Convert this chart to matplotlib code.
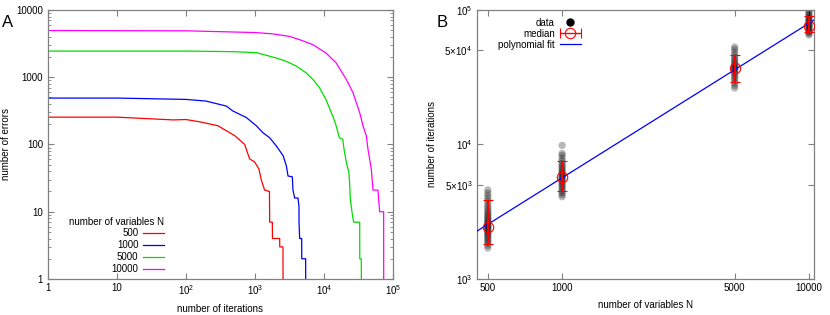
import matplotlib
matplotlib.use("Agg")
import matplotlib.pyplot as plt
from matplotlib.lines import Line2D
from matplotlib.legend_handler import HandlerErrorbar
import numpy as np

plt.rcParams['font.family'] = ['Liberation Sans', 'DejaVu Sans']
plt.rcParams['mathtext.default'] = 'regular'

# panel A: number of errors vs iterations (curve vertices)
iter_500 = [1, 10, 65, 100, 160, 290, 510, 710, 748, 836, 990, 1142, 1230, 1380, 1620, 1632, 1783, 1790,
            2277, 2285, 2545, 2550]
err_500 = [255, 255, 232, 235, 217, 190, 135, 100, 85, 61, 55, 43, 30, 21, 20, 7, 7, 4,
           4, 3, 3, 1]

iter_1000 = [1, 10, 100, 196, 385, 475, 748, 1050, 1300, 1630, 2040, 2560, 2850, 3010, 3475, 3550, 3760,
             4200, 4340, 4345, 4440, 4750, 4760, 5420, 5430]
err_1000 = [490, 490, 468, 442, 372, 316, 252, 189, 150, 126, 95, 68, 48, 34, 33, 21, 16,
            16, 12, 7, 4, 4, 2, 2, 1]

iter_5000 = [1, 100, 480, 1050, 2040, 2850, 3990, 5580, 6940, 8630, 10700, 13400, 15000, 16700, 18700,
             19500, 21100, 23000, 23500, 24100, 25800, 26900, 32900, 33000, 34700, 34800]
err_5000 = [2450, 2450, 2400, 2320, 1930, 1720, 1460, 1150, 925, 695, 465, 264, 190, 126, 120,
            85, 54, 38, 27, 15, 9, 7, 7, 2, 2, 1]

iter_10000 = [1, 100, 1000, 1800, 3180, 4500, 6940, 10700, 15000, 21100, 26300, 32900, 36700, 41000,
              43400, 48500, 51300, 60600, 62700, 64100, 73200, 73300]
err_10000 = [4950, 4900, 4620, 4420, 4040, 3600, 3040, 2290, 1630, 925, 590, 297, 190, 135,
             85, 43, 21, 21, 13, 10, 10, 1]

curves = [(iter_500, err_500, '500', '#ff0000'),
          (iter_1000, err_1000, '1000', '#0000ff'),
          (iter_5000, err_5000, '5000', '#00dd00'),
          (iter_10000, err_10000, '10000', '#ff00ff')]

# panel B: iterations vs number of variables
N_values = [500, 1000, 5000, 10000]
runs_500 = [1700, 1780, 1850, 1900, 1960, 2020, 2080, 2130, 2190, 2240, 2290, 2340, 2390, 2440, 2480,
            2530, 2580, 2640, 2700, 2770, 2840, 2920, 3000, 3100, 3200, 3320, 3450, 3600, 3780, 3950,
            4150, 4350, 4590]
runs_1000 = [4090, 4250, 4400, 4550, 4700, 4850, 5000, 5150, 5300, 5450, 5600, 5700, 5820, 5950, 6100,
             6250, 6400, 6600, 6800, 7000, 7250, 7550, 7900, 8300, 8580, 9840]
runs_5000 = [26300, 27500, 28800, 30000, 31200, 32300, 33400, 34400, 35400, 36300, 36800, 37400, 38300,
             39300, 40400, 41600, 43000, 44500, 46300, 48500, 51000, 53000]
runs_10000 = [65200, 67000, 68500, 70000, 71500, 73000, 74500, 76100, 77500, 79000, 80500, 82000, 84000,
              86000, 88000, 90500, 93000, 96000, 99000]
runs = [runs_500, runs_1000, runs_5000, runs_10000]

median_iter = [2450, 5730, 36800, 76100]
err_low = [1830, 4530, 29000, 68200]
err_high = [3870, 7530, 46300, 90700]

# power law fit y = a * N^b
fit_a = 2.02
fit_b = 1.149

gray = '#808080'

fig = plt.figure(figsize=(8.3, 3.15), dpi=100)
axA = fig.add_axes([0.0578, 0.1143, 0.4157, 0.8540])
axB = fig.add_axes([0.5747, 0.1143, 0.4060, 0.8540])

# ---- panel A ----
for x, y, lab, col in curves:
    axA.plot(x, y, color=col, lw=0.9, label=lab)

axA.set_xscale('log')
axA.set_yscale('log')
axA.set_xlim(1, 1e5)
axA.set_ylim(1, 1e4)
axA.set_xticks([1, 10, 100, 1000, 1e4, 1e5])
axA.set_xticklabels(['1', '10', '$10^2$', '$10^3$', '$10^4$', '$10^5$'])
axA.set_yticks([1, 10, 100, 1000, 1e4])
axA.set_yticklabels(['1', '10', '100', '1000', '10000'])
axA.xaxis.set_minor_locator(matplotlib.ticker.NullLocator())
axA.set_xlabel('number of iterations', fontsize=7, labelpad=5)
axA.set_ylabel('number of errors', fontsize=7, labelpad=4)
axA.legend(title='number of variables N', loc='lower left', bbox_to_anchor=(0.035, -0.015),
           frameon=False, markerfirst=False, fontsize=7, title_fontsize=7,
           handlelength=2.1, handletextpad=0.5, labelspacing=0.2, alignment='right')

# ---- panel B ----
for n, vals in zip(N_values, runs):
    axB.scatter([n] * len(vals), vals, s=28, color='black', alpha=0.28, edgecolors='none', zorder=2)

axB.errorbar(N_values, median_iter,
             yerr=[np.array(median_iter) - np.array(err_low), np.array(err_high) - np.array(median_iter)],
             fmt='o', ms=7.5, mfc='none', mec='red', mew=0.8, ecolor='red', elinewidth=1.4,
             capsize=3.3, capthick=1.0, zorder=4)

fit_x = np.array([450, 10500])
axB.plot(fit_x, fit_a * fit_x ** fit_b, color='#0000ff', lw=0.9, zorder=3)

axB.set_xscale('log')
axB.set_yscale('log')
axB.set_xlim(452, 10480)
axB.set_ylim(1e3, 1e5)
axB.set_xticks(N_values)
axB.set_xticklabels(['500', '1000', '5000', '10000'])
axB.set_yticks([1e3, 5e3, 1e4, 5e4, 1e5])
axB.set_yticklabels(['$10^3$', '$5{\\times}10^3$', '$10^4$', '$5{\\times}10^4$', '$10^5$'])
axB.xaxis.set_minor_locator(matplotlib.ticker.NullLocator())
axB.yaxis.set_minor_locator(matplotlib.ticker.NullLocator())
axB.set_xlabel('number of variables N', fontsize=7, labelpad=5)
axB.set_ylabel('number of iterations', fontsize=7, labelpad=5)

h_data = Line2D([], [], ls='none', marker='o', ms=5, color='black')
h_med = axB.errorbar([np.nan], [np.nan], xerr=[1], fmt='o', ms=7.5, mfc='none', mec='red', mew=0.8,
                     ecolor='red', elinewidth=1.0, capsize=3.3)
h_fit = Line2D([], [], color='#0000ff', lw=0.9)
axB.legend([h_data, h_med, h_fit], ['data', 'median', 'polynomial fit'], loc='upper left',
           bbox_to_anchor=(0.04, 1.0), frameon=False, markerfirst=False, fontsize=7,
           handlelength=2.2, handletextpad=0.5, labelspacing=0.1, borderpad=0.3,
           handler_map={h_med: HandlerErrorbar(xerr_size=1.05, numpoints=1)})

for ax in (axA, axB):
    for sp in ax.spines.values():
        sp.set_color(gray)
        sp.set_linewidth(0.9)
    ax.tick_params(which='both', direction='in', top=True, right=True, colors=gray, labelcolor='black',
                   labelsize=7)
    ax.tick_params(axis='x', pad=3)
    ax.tick_params(axis='y', pad=3.5)
    ax.tick_params(which='major', length=4)
    ax.tick_params(which='minor', length=2)

fig.text(0.002, 1 - 27 / 315, 'A', fontsize=12, va='baseline')
fig.text(0.526, 1 - 27 / 315, 'B', fontsize=12, va='baseline')

fig.savefig('out.png', dpi=100)
